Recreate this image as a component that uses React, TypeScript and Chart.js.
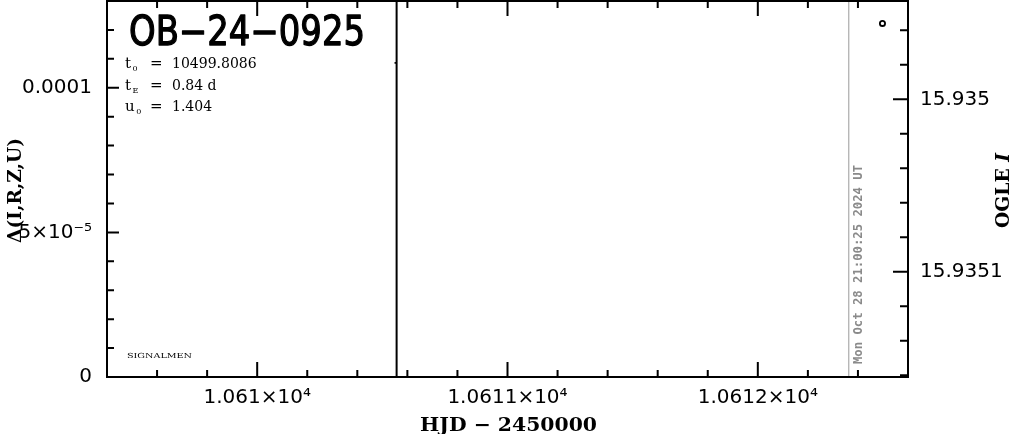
import React, { useEffect, useRef } from "react";
import { Chart, registerables } from "chart.js";

Chart.register(...registerables);

// ---- data ----
const hjdRange = [10609.4, 10612.6];
const hjdMajorTicks = [10610, 10611, 10612];
const hjdTickLabels = ["1.061×10⁴", "1.0611×10⁴", "1.0612×10⁴"];
const hjdMinorStep = 0.2;

const deltaRange = [0, 0.00013];
const deltaMajorTicks = [0, 0.00005, 0.0001];
const deltaTickLabels = ["0", "5×10⁻⁵", "0.0001"];
const deltaMinorStep = 0.00001;

const magRange = [15.934943, 15.935161];
const magMajorTicks = [15.935, 15.9351];
const magTickLabels = ["15.935", "15.9351"];
const magMinorStep = 0.00002;

const ogleHJD = [10612.498];
const ogleMag = [15.934956];

const deltaHJD = [10610.552];
const deltaValues = [0.0001086];

const eventLineHJD = 10610.557;
const nowLineHJD = 10612.3615;
const nowLabel = "Mon Oct 28 21:00:25 2024 UT";

const eventName = "OB−24−0925";
const paramSymbols = ["t", "t", "u"];
const paramSubs = ["0", "E", "0"];
const paramValues = ["10499.8086", "0.84 d", "1.404"];
const footerLabel = "SIGNALMEN";
const xTitle = "HJD − 2450000";
const leftTitle = "Δ(I,R,Z,U)";
const rightTitle = "OGLE ";
const rightTitleItalic = "I";

function minorValues(min: number, max: number, step: number) {
  const out: number[] = [];
  const start = Math.ceil(min / step - 1e-6);
  const end = Math.floor(max / step + 1e-6);
  for (let i = start; i <= end; i++) out.push(i * step);
  return out;
}

function isMajor(v: number, majors: number[], step: number) {
  return majors.some((m) => Math.abs(m - v) < step * 0.01);
}

function fitText(ctx: CanvasRenderingContext2D, text: string, x: number, y: number, width: number, strokeW = 0) {
  const w = ctx.measureText(text).width;
  const s = width / w;
  ctx.save();
  ctx.translate(x, y);
  ctx.scale(s, 1);
  ctx.textAlign = "left";
  ctx.fillText(text, 0, 0);
  if (strokeW > 0) {
    ctx.lineWidth = strokeW;
    ctx.strokeStyle = ctx.fillStyle as string;
    ctx.lineJoin = "round";
    ctx.strokeText(text, 0, 0);
  }
  ctx.restore();
}

const overlay = {
  id: "overlay",
  beforeDatasetsDraw(chart: any) {
    const { ctx, chartArea: a, scales } = chart;
    const xs = scales.x;
    ctx.save();
    const ex = xs.getPixelForValue(eventLineHJD);
    ctx.strokeStyle = "#000";
    ctx.lineWidth = 2;
    ctx.beginPath();
    ctx.moveTo(ex, a.top);
    ctx.lineTo(ex, a.bottom);
    ctx.stroke();
    const nx = xs.getPixelForValue(nowLineHJD);
    ctx.strokeStyle = "#999";
    ctx.lineWidth = 1;
    ctx.beginPath();
    ctx.moveTo(nx + 0.5, a.top);
    ctx.lineTo(nx + 0.5, a.bottom);
    ctx.stroke();
    ctx.restore();
  },
  afterDraw(chart: any) {
    const { ctx, chartArea: a, scales } = chart;
    const xs = scales.x, yl = scales.y, yr = scales.y2;
    ctx.save();
    ctx.strokeStyle = "#000";
    ctx.lineWidth = 2;
    ctx.strokeRect(a.left, a.top, a.right - a.left, a.bottom - a.top);

    ctx.beginPath();
    for (const v of minorValues(hjdRange[0], hjdRange[1], hjdMinorStep)) {
      const px = xs.getPixelForValue(v);
      if (px <= a.left + 1 || px >= a.right - 1) continue;
      const len = isMajor(v, hjdMajorTicks, hjdMinorStep) ? 15 : 7;
      ctx.moveTo(px, a.bottom);
      ctx.lineTo(px, a.bottom - len);
      ctx.moveTo(px, a.top);
      ctx.lineTo(px, a.top + len);
    }
    for (const v of minorValues(deltaRange[0], deltaRange[1], deltaMinorStep)) {
      const py = yl.getPixelForValue(v);
      if (py <= a.top + 1 || py >= a.bottom - 1) continue;
      const len = isMajor(v, deltaMajorTicks, deltaMinorStep) ? 12 : 7;
      ctx.moveTo(a.left, py);
      ctx.lineTo(a.left + len, py);
    }
    for (const v of minorValues(magRange[0], magRange[1], magMinorStep)) {
      const py = yr.getPixelForValue(v);
      if (py <= a.top + 1 || py >= a.bottom - 1) continue;
      const len = isMajor(v, magMajorTicks, magMinorStep) ? 15 : 8;
      ctx.moveTo(a.right, py);
      ctx.lineTo(a.right - len, py);
    }
    ctx.stroke();

    ctx.fillStyle = "#000";
    ctx.textBaseline = "alphabetic";
    ctx.font = "40px 'DejaVu Sans'";
    fitText(ctx, eventName, 129, 45, 236, 1.3);

    const baselines = [68, 90, 111];
    for (let i = 0; i < paramSymbols.length; i++) {
      const by = baselines[i];
      ctx.font = "15px 'DejaVu Serif'";
      ctx.fillText(paramSymbols[i], 125, by);
      const sw = ctx.measureText(paramSymbols[i]).width;
      ctx.font = "8px 'DejaVu Serif'";
      ctx.fillText(paramSubs[i], 125 + sw + 1.5, by + 3);
      ctx.font = "15px 'DejaVu Serif'";
      ctx.fillText("=", 150, by);
      ctx.font = "14px 'DejaVu Serif'";
      ctx.fillText(paramValues[i], 172, by);
    }

    ctx.font = "7px 'DejaVu Serif'";
    fitText(ctx, footerLabel, 127, 358, 65);

    ctx.font = "bold 19px 'DejaVu Serif'";
    fitText(ctx, xTitle, 420, 431, 177);

    ctx.save();
    ctx.translate(21, 243);
    ctx.rotate(-Math.PI / 2);
    ctx.font = "bold 18px 'DejaVu Serif'";
    fitText(ctx, leftTitle, 0, 0, 105);
    ctx.restore();

    ctx.save();
    ctx.translate(1009, 228);
    ctx.rotate(-Math.PI / 2);
    ctx.font = "bold 18px 'DejaVu Serif'";
    const w1 = ctx.measureText(rightTitle).width;
    ctx.font = "italic bold 18px 'DejaVu Serif'";
    const w2 = ctx.measureText(rightTitleItalic).width;
    const s = 75 / (w1 + w2);
    ctx.scale(s, 1);
    ctx.font = "bold 18px 'DejaVu Serif'";
    ctx.fillText(rightTitle, 0, 0);
    ctx.font = "italic bold 18px 'DejaVu Serif'";
    ctx.fillText(rightTitleItalic, w1, 0);
    ctx.restore();

    ctx.save();
    const nx = xs.getPixelForValue(nowLineHJD);
    ctx.translate(nx + 14, 364);
    ctx.rotate(-Math.PI / 2);
    ctx.fillStyle = "#8a8a8a";
    ctx.font = "bold 12px 'DejaVu Sans Mono'";
    fitText(ctx, nowLabel, 0, 0, 199);
    ctx.restore();

    ctx.restore();
  },
};

export default function App() {
  const ref = useRef<HTMLCanvasElement | null>(null);
  useEffect(() => {
    if (!ref.current) return;
    const tickFont = { family: "'DejaVu Sans'", size: 20 };
    const chart = new Chart(ref.current, {
      type: "scatter",
      data: {
        datasets: [
          {
            label: "OGLE I",
            data: ogleHJD.map((x, i) => ({ x, y: ogleMag[i] })),
            yAxisID: "y2",
            pointStyle: "circle",
            pointRadius: 2.6,
            borderWidth: 1.8,
            borderColor: "#000",
            backgroundColor: "#fff",
          },
          {
            label: "Delta",
            data: deltaHJD.map((x, i) => ({ x, y: deltaValues[i] })),
            yAxisID: "y",
            pointStyle: "rect",
            pointRadius: 1.2,
            borderWidth: 0,
            borderColor: "#000",
            backgroundColor: "#000",
          },
        ],
      },
      options: {
        responsive: false,
        animation: false,
        devicePixelRatio: 1,
        layout: { autoPadding: false, padding: { top: 1, left: 0, right: 0, bottom: 0 } },
        plugins: { legend: { display: false }, tooltip: { enabled: false } },
        scales: {
          x: {
            type: "linear",
            position: "bottom",
            min: hjdRange[0],
            max: hjdRange[1],
            grid: { display: false, drawTicks: false },
            border: { display: false },
            afterBuildTicks: (s: any) => {
              s.ticks = hjdMajorTicks.map((v) => ({ value: v }));
            },
            afterFit: (s: any) => {
              s.height = 57;
              s.paddingLeft = 0;
              s.paddingRight = 0;
              s.paddingTop = 0;
              s.paddingBottom = 0;
            },
            ticks: {
              font: tickFont,
              color: "#000",
              padding: 9,
              autoSkip: false,
              maxRotation: 0,
              minRotation: 0,
              callback: (v: any) => {
                const i = hjdMajorTicks.indexOf(Number(v));
                return i >= 0 ? hjdTickLabels[i] : "";
              },
            },
          },
          y: {
            type: "linear",
            position: "left",
            min: deltaRange[0],
            max: deltaRange[1],
            grid: { display: false, drawTicks: false },
            border: { display: false },
            afterBuildTicks: (s: any) => {
              s.ticks = deltaMajorTicks.map((v) => ({ value: v }));
            },
            afterFit: (s: any) => {
              s.width = 107;
              s.paddingLeft = 0;
              s.paddingRight = 0;
              s.paddingTop = 0;
              s.paddingBottom = 0;
            },
            ticks: {
              font: tickFont,
              color: "#000",
              padding: 15,
              autoSkip: false,
              callback: (v: any) => {
                const i = deltaMajorTicks.indexOf(Number(v));
                return i >= 0 ? deltaTickLabels[i] : "";
              },
            },
          },
          y2: {
            type: "linear",
            position: "right",
            reverse: true,
            min: magRange[0],
            max: magRange[1],
            grid: { display: false, drawTicks: false },
            border: { display: false },
            afterBuildTicks: (s: any) => {
              s.ticks = magMajorTicks.map((v) => ({ value: v }));
            },
            afterFit: (s: any) => {
              s.width = 103;
              s.paddingLeft = 0;
              s.paddingRight = 0;
              s.paddingTop = 0;
              s.paddingBottom = 0;
            },
            ticks: {
              font: tickFont,
              color: "#000",
              padding: 12,
              autoSkip: false,
              callback: (v: any) => {
                const i = magMajorTicks.indexOf(Number(v));
                return i >= 0 ? magTickLabels[i] : "";
              },
            },
          },
        },
      },
      plugins: [overlay],
    } as any);
    return () => chart.destroy();
  }, []);

  return (
    <div style={{ position: "fixed", left: 0, top: 0, width: 1011, height: 434, background: "#fff" }}>
      <canvas ref={ref} width={1011} height={434} style={{ display: "block" }} />
    </div>
  );
}
